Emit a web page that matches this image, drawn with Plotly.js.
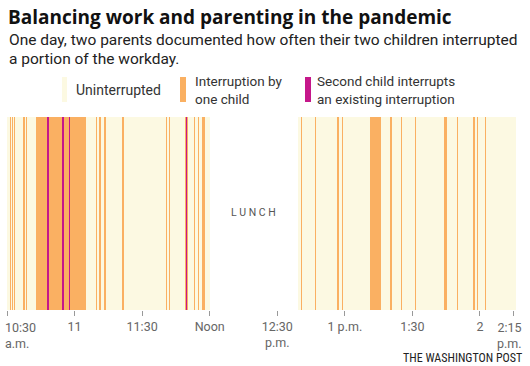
<!DOCTYPE html>
<html>
<head>
<meta charset="utf-8">
<script src="https://cdn.plot.ly/plotly-3.0.1.min.js"></script>
<style>
html,body{margin:0;padding:0;background:#fff;}
#chart{width:530px;height:366px;}
</style>
</head>
<body>
<div id="chart"></div>
<script>
// Minutes after 10:30 a.m.
const uninterruptedStart = [0, 129];
const uninterruptedEnd   = [90, 226];

const oneChildStart = [1.20, 2.31, 3.20, 7.19, 8.53, 13.0, 39.65, 40.99, 42.94, 51.24, 70.69, 71.94, 79.22, 83.17, 84.68, 86.46,
                       130.33, 136.86, 146.63, 148.53, 160.97, 170.20, 174.82, 181.04, 194.05, 199.82, 206.93, 208.70, 212.12];
const oneChildEnd   = [1.78, 2.75, 3.77, 7.86, 9.06, 35.08, 40.10, 41.61, 43.74, 51.73, 71.14, 72.56, 80.46, 83.62, 85.21, 87.70,
                       130.86, 137.34, 147.38, 148.98, 165.94, 170.82, 175.27, 181.62, 195.25, 200.44, 207.82, 209.33, 212.88];

const secondChildStart = [17.75, 24.55, 27.40, 79.65];
const secondChildEnd   = [18.45, 25.25, 28.10, 80.05];

const tickVals = [0, 30, 60, 90, 120, 150, 180, 210, 225];
const tickText = ["", "11", "11:30", "Noon", "12:30<br>p.m.", "1 p.m.", "1:30", "2", ""];

const legendLabels = ["Uninterrupted", "Interruption by<br>one child", "Second child interrupts<br>an existing interruption"];

const COLORS = {cream: "#fcf9e2", orange: "#fab062", magenta: "#c5178a"};

function barTrace(starts, ends, color, name) {
  return {
    type: "bar", orientation: "h", name: name,
    y: starts.map(() => "day"),
    x: ends.map((e, i) => e - starts[i]),
    base: starts,
    width: 1,
    marker: {color: color, line: {width: 0}},
    hoverinfo: "skip", showlegend: false
  };
}

const data = [
  barTrace(uninterruptedStart, uninterruptedEnd, COLORS.cream, "Uninterrupted"),
  barTrace(oneChildStart, oneChildEnd, COLORS.orange, "Interruption by one child"),
  barTrace(secondChildStart, secondChildEnd, COLORS.magenta, "Second child interrupts")
];

// layout helpers: pixel -> paper
const M = {l: 7, r: 14, t: 117, b: 56};
const W = 530, H = 366;
const PW = W - M.l - M.r, PH = H - M.t - M.b;
const px = x => (x - M.l) / PW;
const py = y => (H - M.b - y) / PH;

const FONT = "Roboto, 'Liberation Sans', Arial, sans-serif";

function txt(text, x, y, size, color, xanchor, extra) {
  return Object.assign({
    text: text, xref: "paper", yref: "paper", x: px(x), y: py(y),
    xanchor: xanchor || "left", yanchor: "middle", showarrow: false,
    font: {family: FONT, size: size, color: color}, align: "left"
  }, extra || {});
}

const annotations = [
  txt("<b>Balancing work and parenting in the pandemic</b>", 6, 17, 19, "#111", "left",
      {font: {family: "'Open Sans', " + FONT, size: 19, color: "#111"}}),
  txt("One day, two parents documented how often their two children interrupted", 7, 40, 15.5, "#222"),
  txt("a portion of the workday.", 7, 59, 15.5, "#222"),
  txt(legendLabels[0], 74, 90, 14, "#333"),
  txt(legendLabels[1], 193, 90, 13.5, "#333"),
  txt(legendLabels[2], 315, 90, 13.5, "#333"),
  {text: "L U N C H", xref: "x", yref: "paper", x: 109.5, y: py(212), xanchor: "center", yanchor: "middle",
   showarrow: false, font: {family: FONT, size: 10.5, color: "#555"}},
  {text: "10:30<br>a.m.", xref: "x", yref: "paper", x: 0, y: py(318), xanchor: "left", yanchor: "top", xshift: -4,
   showarrow: false, align: "left", font: {family: FONT, size: 12.5, color: "#666"}},
  {text: "2:15<br>p.m.", xref: "x", yref: "paper", x: 225, y: py(318), xanchor: "right", yanchor: "top", xshift: 10,
   showarrow: false, align: "right", font: {family: FONT, size: 12.5, color: "#666"}},
  txt("THE WASHINGTON POST", 524, 358, 12, "#222", "right",
      {font: {family: "'Liberation Sans Narrow', 'Roboto Condensed', " + FONT, size: 12, color: "#222"}})
];

const shapes = [
  {type: "rect", xref: "paper", yref: "paper", x0: px(62), x1: px(67), y0: py(102), y1: py(77), fillcolor: COLORS.cream, line: {width: 0}},
  {type: "rect", xref: "paper", yref: "paper", x0: px(180), x1: px(186), y0: py(102), y1: py(77), fillcolor: COLORS.orange, line: {width: 0}},
  {type: "rect", xref: "paper", yref: "paper", x0: px(305), x1: px(311), y0: py(102), y1: py(77), fillcolor: COLORS.magenta, line: {width: 0}}
];

const layout = {
  width: W, height: H,
  margin: M,
  paper_bgcolor: "#fff", plot_bgcolor: "#fff",
  barmode: "overlay", bargap: 0,
  xaxis: {
    range: [0, 226], showgrid: false, zeroline: false, showline: false,
    tickmode: "array", tickvals: tickVals, ticktext: tickText,
    ticks: "outside", ticklen: 5, tickwidth: 1, tickcolor: "#999",
    tickfont: {family: FONT, size: 12.5, color: "#666"}, fixedrange: true
  },
  yaxis: {range: [-0.5, 0.5], visible: false, fixedrange: true},
  annotations: annotations,
  shapes: shapes,
  showlegend: false
};

Plotly.newPlot("chart", data, layout, {staticPlot: true, displayModeBar: false});
</script>
</body>
</html>
